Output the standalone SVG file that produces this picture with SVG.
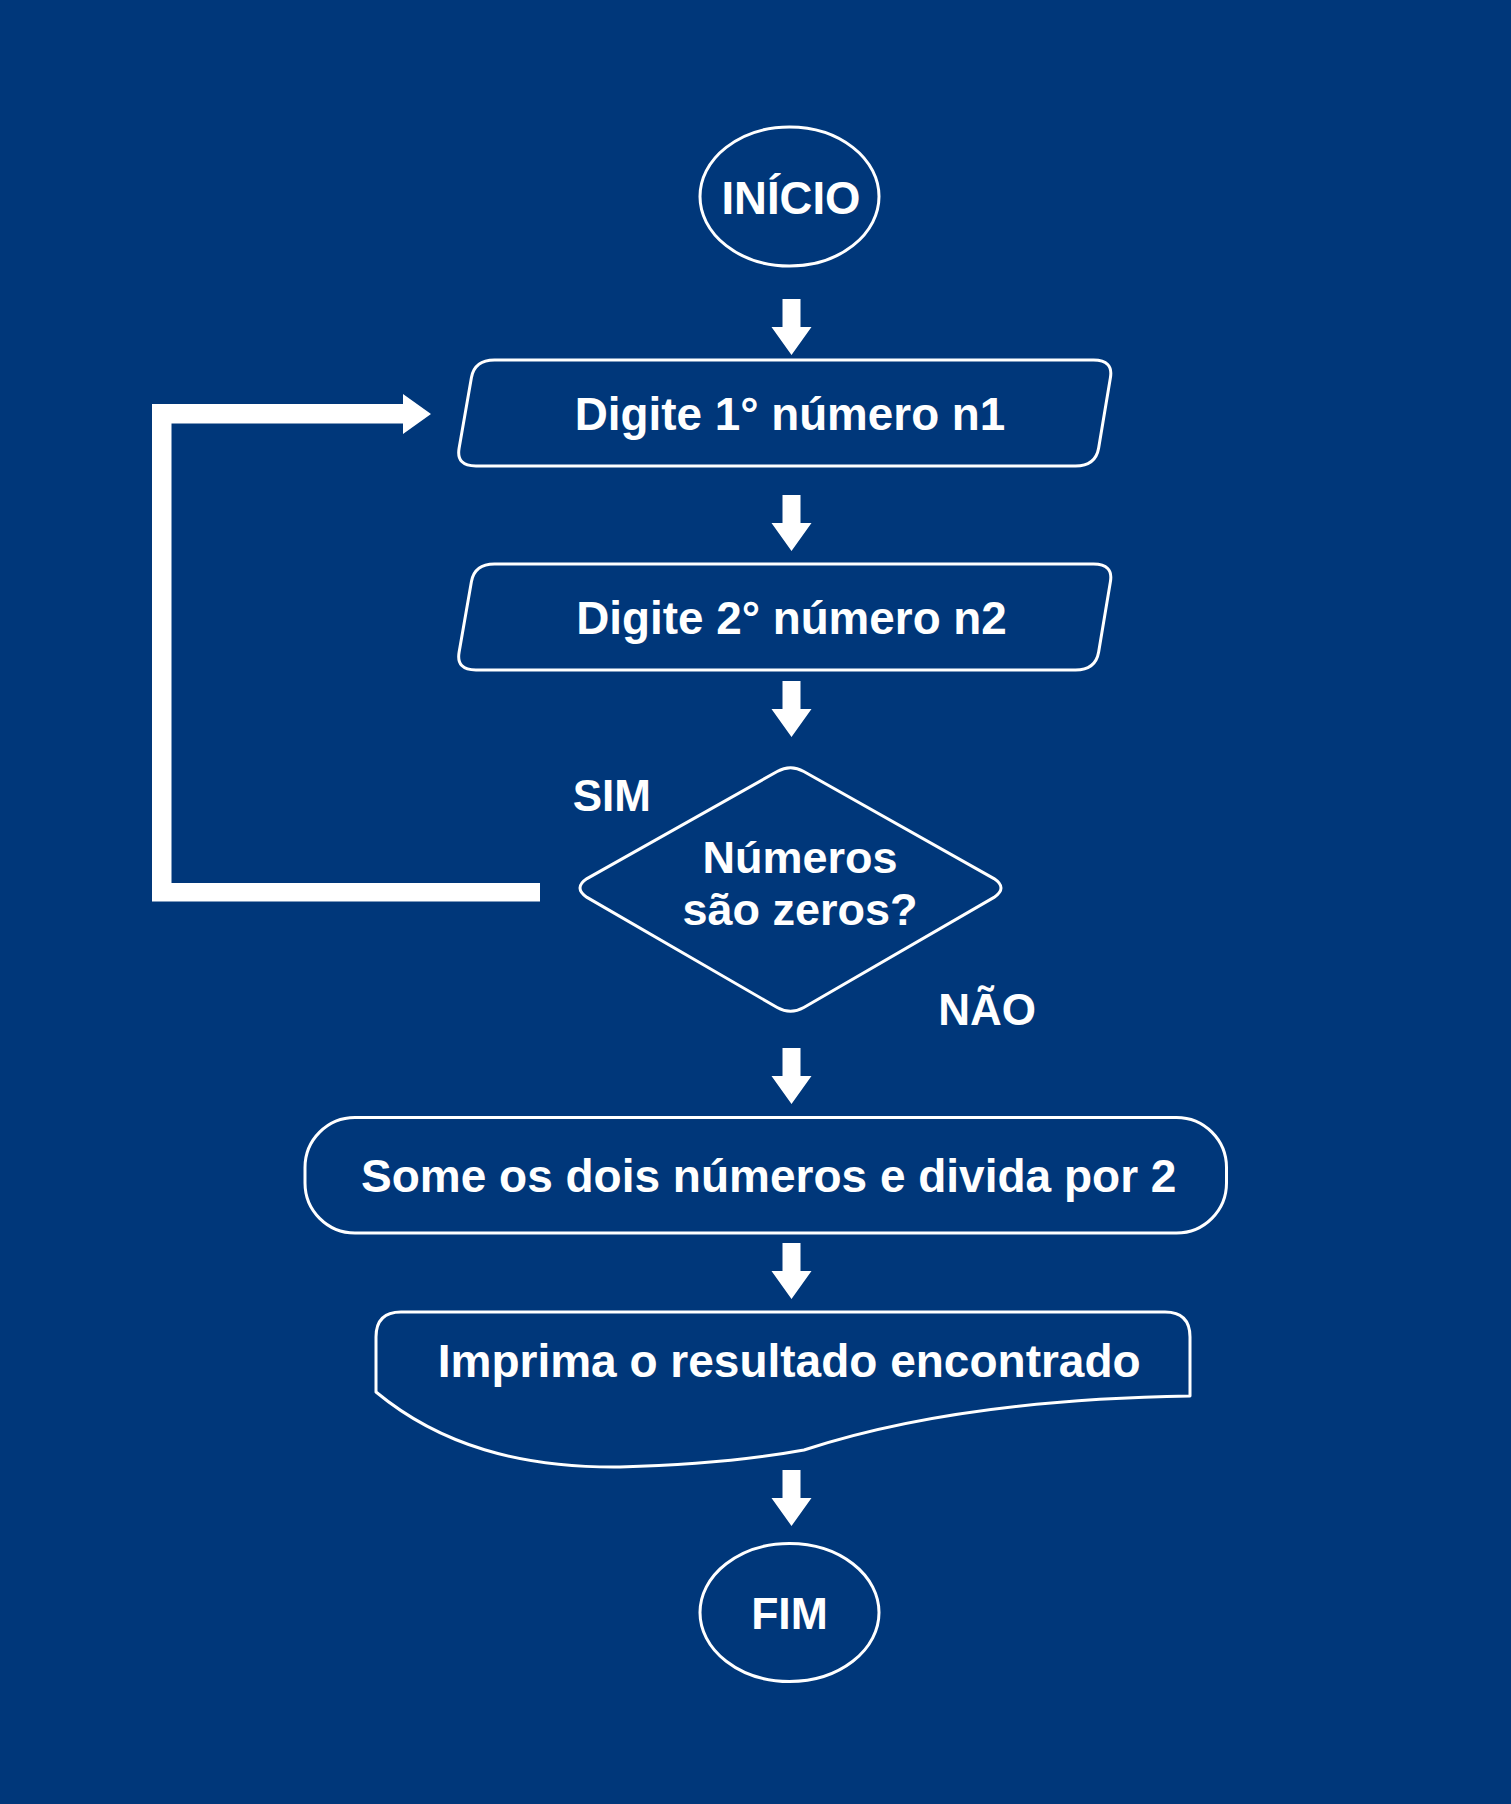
<svg xmlns="http://www.w3.org/2000/svg" xmlns:xlink="http://www.w3.org/1999/xlink" width="1511" height="1804" viewBox="0 0 1511 1804">
<style>
.bg{fill:#00377a}
.shape{fill:none;stroke:#ffffff;stroke-width:3;stroke-linejoin:round}
.lbl{font-family:"Liberation Sans",Arial,sans-serif;font-weight:bold;fill:#ffffff}
.c{text-anchor:middle}
.arrow{fill:#ffffff}
</style>
<defs>
<path id="dn" d="M-9,0 H9 V28 H20 L0,56 L-20,28 H-9 Z"/>
</defs>
<rect class="bg" x="0" y="0" width="1511" height="1804"/>
<g id="connectors">
<use xlink:href="#dn" href="#dn" class="arrow" transform="translate(791.5,299)"/>
<use xlink:href="#dn" href="#dn" class="arrow" transform="translate(791.5,495)"/>
<use xlink:href="#dn" href="#dn" class="arrow" transform="translate(791.5,681)"/>
<use xlink:href="#dn" href="#dn" class="arrow" transform="translate(791.5,1048)"/>
<use xlink:href="#dn" href="#dn" class="arrow" transform="translate(791.5,1243)"/>
<use xlink:href="#dn" href="#dn" class="arrow" transform="translate(791.5,1470)"/>
<polygon class="arrow" points="152,404 403,404 403,394 431,414 403,434 403,423.5 171.5,423.5 171.5,883 540,883 540,901.5 152,901.5"/>
<text class="lbl" x="572.7" y="810.7" font-size="44">SIM</text>
<text class="lbl" x="938.3" y="1025" font-size="44">NÃO</text>
</g>
<g id="inicio">
<ellipse class="shape" cx="789.5" cy="196.5" rx="89.5" ry="69.5"/>
<text class="lbl c" x="791" y="213.5" font-size="45.5">INÍCIO</text>
</g>
<g id="entrada1">
<path class="shape" d="M471.4,377.7 Q474.5,360 494.5,360 L1093.5,360 Q1113.5,360 1110.4,377.7 L1098.6,448.3 Q1095.5,466 1075.5,466 L476,466 Q456,466 459.1,448.3 Z"/>
<text class="lbl c" x="790" y="430" font-size="45.8">Digite 1° número n1</text>
</g>
<g id="entrada2">
<path class="shape" d="M471.4,581.7 Q474.5,564 494.5,564 L1093.5,564 Q1113.5,564 1110.4,581.7 L1098.6,652.3 Q1095.5,670 1075.5,670 L476,670 Q456,670 459.1,652.3 Z"/>
<text class="lbl c" x="791.5" y="634" font-size="45.8">Digite 2° número n2</text>
</g>
<g id="decisao">
<path class="shape" d="M777.2,771.5 Q790.5,764 803.8,771.5 L994,878.6 Q1008,888 994,897.4 L803.8,1007.5 Q790.5,1015 777.2,1007.5 L587,897.4 Q573,888 587,878.6 Z"/>
<text class="lbl c" x="800" y="873" font-size="45">Números</text>
<text class="lbl c" x="800" y="925" font-size="45">são zeros?</text>
</g>
<g id="processo">
<rect class="shape" x="305" y="1117.5" width="921.5" height="115.5" rx="50" ry="50"/>
<text class="lbl c" x="768.7" y="1191.7" font-size="46">Some os dois números e divida por 2</text>
</g>
<g id="saida">
<path class="shape" d="M376,1392 L376,1337 Q376,1312 401,1312 L1165,1312 Q1190,1312 1190,1337 L1190,1396 C1000,1399 880,1425 804,1450 C760,1458 700,1465 620,1467 C520,1468 440,1445 376,1392 Z"/>
<text class="lbl c" x="789.2" y="1376.7" font-size="46">Imprima o resultado encontrado</text>
</g>
<g id="fim">
<ellipse class="shape" cx="789.5" cy="1612.5" rx="89.5" ry="69"/>
<text class="lbl c" x="789.5" y="1629.3" font-size="44.5">FIM</text>
</g>
</svg>
